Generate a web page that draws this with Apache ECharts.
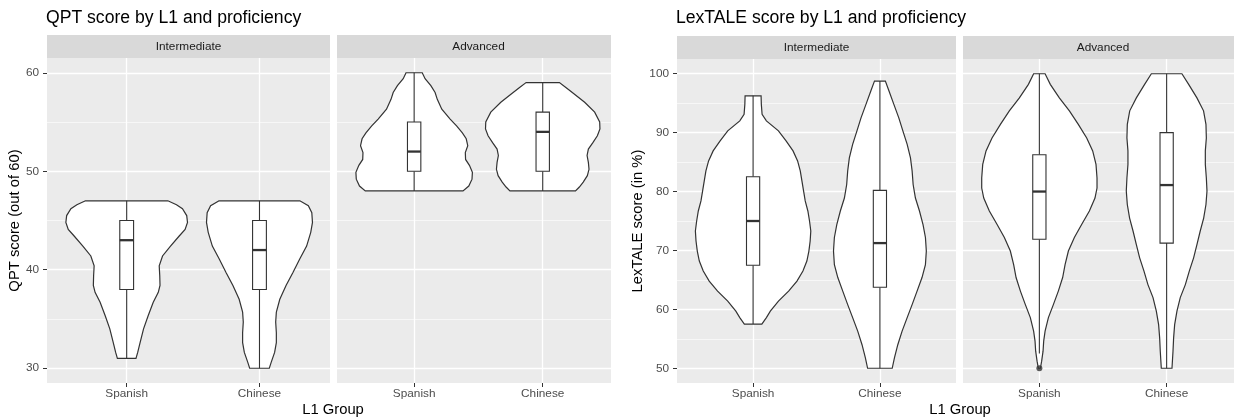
<!DOCTYPE html>
<html><head><meta charset="utf-8">
<script src="https://cdn.jsdelivr.net/npm/echarts@6/dist/echarts.min.js"></script>
<style>html,body{margin:0;padding:0;background:#fff}#c{width:1234px;height:420px}</style>
</head><body><div id="c"></div>
<script>
// ---------- data ----------
const categories = ['Spanish', 'Chinese'];
const facets = ['Intermediate', 'Advanced'];
const qptTicks = [30, 40, 50, 60];
const qptMinor = [35, 45, 55];
const lexTicks = [50, 60, 70, 80, 90, 100];
const lexMinor = [55, 65, 75, 85, 95];

// violin outlines: [score, half-width in category units]
const qptIntSpanish = [[47,0.31],[46.6,0.375],[46.2,0.42],[45.5,0.452],[44.8,0.458],[44.1,0.44],[43.4,0.394],[42.4,0.33],[41.4,0.27],[40.4,0.245],[39.4,0.249],[38.4,0.251],[37.7,0.238],[36.7,0.2],[35.3,0.161],[34,0.127],[32.6,0.101],[31.6,0.083],[31,0.07]];
const qptIntChinese = [[47,0.304],[46.5,0.368],[45.8,0.394],[44.8,0.399],[43.8,0.386],[42.4,0.355],[41.1,0.303],[39.7,0.251],[38.4,0.2],[37,0.153],[35.7,0.127],[34.7,0.122],[33.6,0.127],[32.6,0.127],[31.6,0.114],[30.6,0.088],[30,0.074]];
const qptAdvSpanish = [[60,0.063],[59.4,0.085],[58.7,0.13],[58,0.163],[57.3,0.18],[56.3,0.215],[55.3,0.28],[54.6,0.33],[53.9,0.375],[53.3,0.405],[52.6,0.417],[51.9,0.398],[51.2,0.4],[50.6,0.43],[49.9,0.453],[49.2,0.45],[48.5,0.425],[48,0.38]];
const qptAdvChinese = [[59,0.13],[58.5,0.18],[58,0.23],[57,0.326],[56,0.404],[55,0.443],[54.3,0.445],[53.6,0.425],[52.9,0.39],[52.25,0.355],[51.6,0.345],[50.9,0.355],[50.2,0.36],[49.55,0.347],[48.9,0.315],[48.4,0.285],[48,0.255]];
const lexIntSpanish = [[96.25,0.063],[94.8,0.065],[93.1,0.071],[92,0.105],[90.3,0.2],[88.6,0.26],[86.9,0.315],[85.2,0.351],[83.5,0.372],[81.8,0.385],[80.1,0.398],[78.4,0.411],[76.7,0.432],[75,0.445],[73.3,0.455],[71.6,0.45],[69.9,0.44],[68.2,0.424],[66.5,0.393],[64.8,0.346],[63.1,0.28],[61.4,0.2],[59.7,0.136],[58.6,0.105],[57.5,0.069]];
const lexIntChinese = [[98.75,0.043],[97.1,0.071],[94.8,0.11],[92.5,0.149],[90.3,0.181],[88,0.215],[85.7,0.241],[83.5,0.254],[81.2,0.262],[78.9,0.28],[76.7,0.312],[74.4,0.34],[72.2,0.359],[69.9,0.366],[67.6,0.359],[65.4,0.332],[63.1,0.293],[60.8,0.254],[58.6,0.215],[56.3,0.175],[54,0.141],[51.8,0.115],[50,0.097]];
const lexAdvSpanish = [[100,0.045],[98.2,0.086],[95.9,0.157],[93.7,0.236],[91.4,0.306],[89.1,0.372],[86.9,0.419],[84.6,0.445],[82.3,0.453],[80.6,0.453],[78.9,0.437],[76.7,0.393],[74.4,0.332],[72.2,0.275],[69.9,0.228],[67.6,0.202],[65.4,0.183],[63.1,0.149],[60.8,0.11],[58.6,0.071],[56.3,0.045],[54.6,0.034],[52.9,0.029],[51.2,0.018],[50,0.008]];
const lexAdvChinese = [[100,0.12],[98.2,0.173],[95.9,0.238],[93.7,0.29],[91.4,0.309],[89.1,0.312],[86.9,0.304],[84.6,0.304],[82.3,0.312],[80.1,0.317],[77.8,0.309],[75.5,0.291],[73.3,0.264],[71,0.238],[68.75,0.212],[66.5,0.178],[64.2,0.147],[62,0.107],[59.7,0.081],[57.4,0.063],[55.2,0.055],[52.9,0.05],[50,0.042]];

// boxplot stats: [lower whisker, Q1, median, Q3, upper whisker]
const qptIntBox = [[31,38,43,45,47],[30,38,42,45,47]];
const qptAdvBox = [[48,50,52,55,60],[48,50,54,56,59]];
const lexIntBox = [[57.5,67.5,75,82.5,96.25],[50,63.75,71.25,80.2,98.75]];
const lexAdvBox = [[52.5,71.9,80,86.25,100],[50,71.25,81.1,90,100]];
const lexAdvOutliers = [[0,50]];

// ---------- chart ----------
const FONT = "'Liberation Sans', Arial, Helvetica, sans-serif";
const chart = echarts.init(document.getElementById('c'), null, {renderer:'canvas'});

const panels = [
  {left:47, top:58, width:283, height:325, xmax:1.531, ymin:28.5, ymax:61.5, ticks:qptTicks, minor:qptMinor, showY:true, yname:'QPT score (out of 60)', nameGap:25, prof:[qptIntSpanish,qptIntChinese], box:qptIntBox, facet:0},
  {left:337, top:58, width:274, height:325, xmax:1.531, ymin:28.5, ymax:61.5, ticks:qptTicks, minor:qptMinor, showY:false, facet:1, prof:[qptAdvSpanish,qptAdvChinese], box:qptAdvBox, stripW:283},
  {left:677, top:59, width:279, height:324, xmax:1.6, ymin:47.5, ymax:102.5, ticks:lexTicks, minor:lexMinor, showY:true, yname:'LexTALE score (in %)', nameGap:24, prof:[lexIntSpanish,lexIntChinese], box:lexIntBox, facet:0},
  {left:963, top:59, width:280, height:324, xmax:1.6, ymin:47.5, ymax:102.5, ticks:lexTicks, minor:lexMinor, showY:false, prof:[lexAdvSpanish,lexAdvChinese], box:lexAdvBox, facet:1}
];

const grid = [], xAxis = [], yAxis = [], series = [], graphic = [];
panels.forEach((p, g) => {
  grid.push({left:p.left, top:p.top, width:p.width, height:p.height, show:true, backgroundColor:'#EBEBEB', borderWidth:0, containLabel:false, outerBoundsMode:'none'});
  xAxis.push({
    type:'value', gridIndex:g, min:-0.6, max:p.xmax, position:'bottom',
    axisLine:{show:false, onZero:false},
    axisTick:{show:true, customValues:[0,1], length:4, lineStyle:{color:'#333333', width:1}},
    axisLabel:{show:true, customValues:[0,1], formatter:v => categories[Math.round(v)], color:'#4D4D4D', fontSize:11.8, fontFamily:FONT, margin:5},
    splitLine:{show:true, lineStyle:{color:'#FFFFFF', width:1.3}}
  });
  yAxis.push({
    type:'value', gridIndex:g, min:p.ymin, max:p.ymax, position:'left',
    name: p.showY ? p.yname : '', nameLocation:'middle', nameGap:p.nameGap || 0, nameRotate:90,
    nameTextStyle:{color:'#000', fontSize:14.8, fontFamily:FONT},
    axisLine:{show:false, onZero:false},
    axisTick:{show:p.showY, customValues:p.ticks, length:4, lineStyle:{color:'#333333', width:1}},
    axisLabel:{show:p.showY, customValues:p.ticks, color:'#4D4D4D', fontSize:11.8, fontFamily:FONT, margin:8},
    splitLine:{show:true, lineStyle:{color:'#FFFFFF', width:1.3}}
  });
  yAxis.push({
    type:'value', gridIndex:g, min:p.ymin, max:p.ymax, position:'left',
    axisLine:{show:false, onZero:false}, axisLabel:{show:false},
    axisTick:{show:false, customValues:p.minor},
    splitLine:{show:true, lineStyle:{color:'#FFFFFF', width:0.6}}
  });
  const prof = p.prof, box = p.box;
  series.push({
    type:'custom', xAxisIndex:g, yAxisIndex:g*2, clip:false,
    data: prof.map((pr, i) => [i, pr[0][0]]),
    encode:{x:0, y:1},
    renderItem:(params, api) => {
      const i = params.dataIndex, pr = prof[i], b = box[i];
      const leftSide = pr.map(d => api.coord([i - d[1], d[0]]));
      const rightSide = pr.slice().reverse().map(d => api.coord([i + d[1], d[0]]));
      const bw = 0.052;
      const tl = api.coord([i - bw, b[3]]), br = api.coord([i + bw, b[1]]);
      const c = x => api.coord([i, x]);
      const ml = api.coord([i - bw, b[2]]), mr = api.coord([i + bw, b[2]]);
      const ls = {stroke:'#333333', lineWidth:1.1};
      return {type:'group', children:[
        {type:'polygon', shape:{points:leftSide.concat(rightSide)}, style:{fill:'#FFFFFF', stroke:'#333333', lineWidth:1.2}},
        {type:'line', shape:{x1:c(b[3])[0], y1:c(b[3])[1], x2:c(b[4])[0], y2:c(b[4])[1]}, style:ls},
        {type:'line', shape:{x1:c(b[1])[0], y1:c(b[1])[1], x2:c(b[0])[0], y2:c(b[0])[1]}, style:ls},
        {type:'rect', shape:{x:tl[0], y:tl[1], width:br[0]-tl[0], height:br[1]-tl[1]}, style:{fill:'#FFFFFF', stroke:'#333333', lineWidth:1.1}},
        {type:'line', shape:{x1:ml[0], y1:ml[1], x2:mr[0], y2:mr[1]}, style:{stroke:'#333333', lineWidth:2.3}}
      ]};
    }
  });
  // strip
  const sw = p.stripW || p.width;
  graphic.push({type:'rect', shape:{x:p.left, y:p.top - 23, width:p.width, height:23}, style:{fill:'#D9D9D9'}, z:-1});
  graphic.push({type:'text', x:p.left + sw / 2, y:p.top - 11.5, style:{text:facets[p.facet], textAlign:'center', textVerticalAlign:'middle', align:'center', verticalAlign:'middle', fill:'#1A1A1A', font:'11.8px ' + FONT}});
});

series.push({type:'scatter', xAxisIndex:3, yAxisIndex:6, data:lexAdvOutliers, symbol:'circle', symbolSize:6, itemStyle:{color:'#333333'}, z:5});

graphic.push({type:'text', x:333, y:410, style:{text:'L1 Group', textAlign:'center', textVerticalAlign:'middle', align:'center', verticalAlign:'middle', fill:'#000', font:'14.8px ' + FONT}});
graphic.push({type:'text', x:960, y:410, style:{text:'L1 Group', textAlign:'center', textVerticalAlign:'middle', align:'center', verticalAlign:'middle', fill:'#000', font:'14.8px ' + FONT}});

chart.setOption({
  animation:false,
  backgroundColor:'#FFFFFF',
  title:[
    {text:'QPT score by L1 and proficiency', left:46, top:9, padding:0, textStyle:{fontSize:17.6, fontWeight:'normal', color:'#000', fontFamily:FONT}},
    {text:'LexTALE score by L1 and proficiency', left:676, top:9, padding:0, textStyle:{fontSize:17.6, fontWeight:'normal', color:'#000', fontFamily:FONT}}
  ],
  grid, xAxis, yAxis, series, graphic
});
</script></body></html>
